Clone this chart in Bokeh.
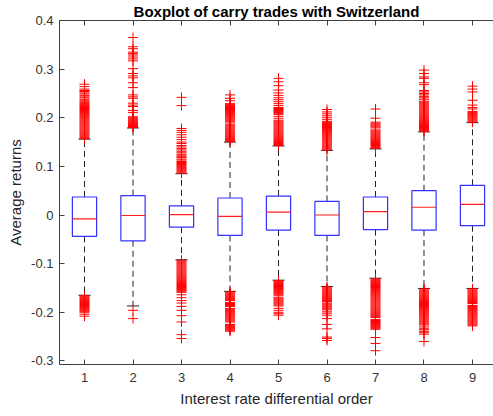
from bokeh.plotting import figure
from bokeh.models import Range1d, LinearAxis, FixedTicker, CustomJSTickFormatter
from bokeh.embed import file_html
from bokeh.resources import INLINE

# ---------------- data ----------------
positions = [1, 2, 3, 4, 5, 6, 7, 8, 9]
q1 = [-0.044, -0.053, -0.025, -0.042, -0.031, -0.042, -0.030, -0.031, -0.022]
med = [-0.008, -0.001, 0.001, -0.003, 0.006, 0.000, 0.007, 0.016, 0.022]
q3 = [0.037, 0.040, 0.019, 0.035, 0.039, 0.028, 0.037, 0.050, 0.061]
lower_whisker = [-0.165, -0.187, -0.092, -0.157, -0.134, -0.147, -0.130, -0.151, -0.151]
upper_whisker = [0.156, 0.179, 0.085, 0.150, 0.142, 0.133, 0.136, 0.171, 0.190]

out1 = [0.157, 0.159, 0.161, 0.163, 0.165, 0.167, 0.169, 0.171, 0.173, 0.175, 0.177, 0.179,
        0.181, 0.183, 0.185, 0.187, 0.189, 0.191, 0.193, 0.195, 0.197, 0.199, 0.201, 0.203,
        0.205, 0.207, 0.209, 0.211, 0.213, 0.215, 0.217, 0.219, 0.221, 0.223, 0.225, 0.227,
        0.229, 0.231, 0.233, 0.236, 0.238, 0.241, 0.243, 0.246, 0.249, 0.251, 0.254, 0.256,
        0.259, 0.264, 0.269,
        -0.166, -0.168, -0.170, -0.172, -0.174, -0.176, -0.178, -0.180, -0.182, -0.184,
        -0.186, -0.188, -0.190, -0.192, -0.194, -0.196, -0.198, -0.200, -0.204, -0.208]
out2 = [0.180, 0.182, 0.184, 0.186, 0.188, 0.190, 0.192, 0.194, 0.196, 0.198, 0.200, 0.202,
        0.211, 0.215, 0.223, 0.226, 0.230, 0.240, 0.243, 0.247, 0.262, 0.272, 0.282, 0.286,
        0.291, 0.301, 0.317, 0.321, 0.325, 0.329, 0.332, 0.335, 0.342, 0.346, 0.365,
        -0.196, -0.213]
out3 = [0.086, 0.088, 0.090, 0.092, 0.094, 0.096, 0.098, 0.100, 0.102, 0.104, 0.106, 0.108,
        0.110, 0.113, 0.115, 0.118, 0.120, 0.123, 0.125, 0.128, 0.131, 0.134, 0.137, 0.140,
        0.143, 0.147, 0.150, 0.155, 0.160, 0.165, 0.170, 0.174, 0.178, 0.225, 0.242,
        -0.093, -0.095, -0.097, -0.099, -0.101, -0.103, -0.105, -0.107, -0.109, -0.111,
        -0.113, -0.115, -0.117, -0.119, -0.121, -0.123, -0.125, -0.127, -0.129, -0.131,
        -0.133, -0.135, -0.137, -0.139, -0.141, -0.143, -0.145, -0.147, -0.149, -0.151,
        -0.153, -0.155, -0.157, -0.159, -0.164, -0.170, -0.176, -0.181, -0.188, -0.196,
        -0.207, -0.220, -0.246, -0.254]
out4 = [0.151, 0.153, 0.155, 0.157, 0.159, 0.161, 0.163, 0.165, 0.167, 0.169, 0.171, 0.173,
        0.175, 0.177, 0.179, 0.181, 0.183, 0.185, 0.187, 0.191, 0.193, 0.195, 0.197, 0.199,
        0.201, 0.203, 0.205, 0.207, 0.209, 0.211, 0.213, 0.215, 0.217, 0.219, 0.221, 0.223,
        0.225, 0.227, 0.229, 0.235, 0.240, 0.247,
        -0.158, -0.160, -0.162, -0.164, -0.166, -0.168, -0.170, -0.172, -0.174, -0.176,
        -0.180, -0.182, -0.184, -0.186, -0.188, -0.192, -0.194, -0.196, -0.198, -0.200,
        -0.202, -0.204, -0.206, -0.208, -0.210, -0.212, -0.214, -0.216, -0.218, -0.220,
        -0.225, -0.227, -0.229, -0.231, -0.233, -0.235, -0.237, -0.239]
out5 = [0.143, 0.145, 0.147, 0.149, 0.151, 0.153, 0.155, 0.157, 0.159, 0.161, 0.163, 0.165,
        0.167, 0.169, 0.171, 0.173, 0.175, 0.177, 0.179, 0.181, 0.183, 0.185, 0.187, 0.189,
        0.191, 0.193, 0.195, 0.199, 0.203, 0.207, 0.209, 0.211, 0.213, 0.215, 0.217, 0.219,
        0.221, 0.225, 0.229, 0.233, 0.237, 0.241, 0.246, 0.251, 0.257, 0.266, 0.274, 0.281,
        -0.135, -0.137, -0.139, -0.141, -0.143, -0.145, -0.147, -0.149, -0.151, -0.153,
        -0.155, -0.157, -0.159, -0.161, -0.163, -0.165, -0.169, -0.171, -0.173, -0.175,
        -0.177, -0.179, -0.181, -0.183, -0.185, -0.187, -0.192, -0.196, -0.200, -0.203, -0.206]
out6 = [0.134, 0.136, 0.138, 0.140, 0.142, 0.144, 0.146, 0.148, 0.150, 0.152, 0.154, 0.156,
        0.158, 0.160, 0.162, 0.164, 0.166, 0.168, 0.170, 0.172, 0.174, 0.176, 0.178, 0.180,
        0.182, 0.184, 0.186, 0.188, 0.190, 0.192, 0.196, 0.200, 0.204, 0.208, 0.212, 0.217,
        -0.148, -0.150, -0.152, -0.154, -0.156, -0.158, -0.160, -0.162, -0.164, -0.166,
        -0.168, -0.170, -0.172, -0.174, -0.176, -0.178, -0.181, -0.183, -0.185, -0.187,
        -0.189, -0.191, -0.193, -0.195, -0.199, -0.202, -0.206, -0.213, -0.225, -0.234,
        -0.251, -0.254, -0.258]
out7 = [0.137, 0.139, 0.141, 0.143, 0.145, 0.147, 0.149, 0.151, 0.153, 0.155, 0.157, 0.159,
        0.161, 0.163, 0.165, 0.167, 0.169, 0.171, 0.173, 0.175, 0.179, 0.181, 0.183, 0.185,
        0.187, 0.189, 0.191, 0.199, 0.218,
        -0.131, -0.133, -0.135, -0.137, -0.139, -0.141, -0.143, -0.145, -0.147, -0.149,
        -0.151, -0.153, -0.155, -0.157, -0.159, -0.161, -0.163, -0.165, -0.167, -0.169,
        -0.171, -0.173, -0.175, -0.177, -0.179, -0.181, -0.183, -0.185, -0.187, -0.189,
        -0.191, -0.193, -0.195, -0.197, -0.199, -0.201, -0.203, -0.205, -0.207, -0.209,
        -0.211, -0.215, -0.217, -0.219, -0.221, -0.223, -0.225, -0.227, -0.229, -0.231,
        -0.233, -0.235, -0.252, -0.264, -0.279]
out8 = [0.172, 0.174, 0.176, 0.178, 0.180, 0.182, 0.184, 0.186, 0.188, 0.190, 0.192, 0.194,
        0.196, 0.198, 0.200, 0.202, 0.204, 0.206, 0.208, 0.210, 0.212, 0.214, 0.216, 0.218,
        0.220, 0.222, 0.224, 0.226, 0.228, 0.230, 0.232, 0.234, 0.238, 0.241, 0.244, 0.247,
        0.250, 0.253, 0.256, 0.268, 0.272, 0.281, 0.284, 0.291, 0.298,
        -0.152, -0.154, -0.156, -0.158, -0.160, -0.162, -0.164, -0.166, -0.168, -0.170,
        -0.172, -0.174, -0.176, -0.178, -0.180, -0.182, -0.184, -0.186, -0.188, -0.190,
        -0.192, -0.194, -0.196, -0.198, -0.200, -0.202, -0.204, -0.206, -0.208, -0.210,
        -0.212, -0.214, -0.216, -0.218, -0.220, -0.222, -0.224, -0.226, -0.230, -0.233,
        -0.236, -0.239, -0.242, -0.245, -0.260]
out9 = [0.191, 0.193, 0.195, 0.197, 0.199, 0.201, 0.203, 0.205, 0.207, 0.209, 0.211, 0.213,
        0.218, 0.221, 0.226, 0.236, 0.253, 0.259, 0.265,
        -0.152, -0.154, -0.156, -0.158, -0.160, -0.162, -0.164, -0.166, -0.168, -0.170,
        -0.172, -0.174, -0.176, -0.178, -0.180, -0.182, -0.186, -0.188, -0.190, -0.192,
        -0.194, -0.196, -0.198, -0.200, -0.202, -0.204, -0.206, -0.208, -0.210, -0.212,
        -0.214, -0.216, -0.218, -0.220, -0.222, -0.224, -0.226, -0.228]

x_ticks = [1, 2, 3, 4, 5, 6, 7, 8, 9]
x_tick_labels = ["1", "2", "3", "4", "5", "6", "7", "8", "9"]
y_ticks = [-0.3, -0.2, -0.1, 0.0, 0.1, 0.2, 0.3, 0.4]
y_tick_labels = ["-0.3", "-0.2", "-0.1", "0", "0.1", "0.2", "0.3", "0.4"]

title_text = "Boxplot of carry trades with Switzerland"
x_label = "Interest rate differential order"
y_label = "Average returns"

# ---------------- figure ----------------
FONT = "Liberation Sans"
AX = "#404040"

p = figure(width=493, height=416,
           x_range=Range1d(0.4845, 9.433), y_range=Range1d(-0.3074, 0.4),
           output_backend="svg", toolbar_location=None,
           min_border_left=59, min_border_right=0, min_border_top=18, min_border_bottom=52)
p.outline_line_color = None
p.grid.visible = False
p.background_fill_color = "white"
p.border_fill_color = "white"

p.title.text = title_text
p.title.align = "center"
p.title.offset = 2
p.title.standoff = 1
p.title.text_font = FONT
p.title.text_font_size = "15px"
p.title.text_font_style = "bold"
p.title.text_color = "#000000"

def style_axis(ax):
    ax.axis_line_color = AX
    ax.axis_line_width = 1
    ax.major_tick_line_color = AX
    ax.major_tick_in = 5
    ax.major_tick_out = 0
    ax.minor_tick_line_color = None
    ax.major_label_text_font = FONT
    ax.major_label_text_font_size = "13px"
    ax.major_label_text_color = "#333333"
    ax.axis_label_text_font = FONT
    ax.axis_label_text_font_size = "15px"
    ax.axis_label_text_font_style = "normal"
    ax.axis_label_text_color = "#262626"

xa = p.xaxis[0]
style_axis(xa)
xa.ticker = FixedTicker(ticks=x_ticks)
xa.major_label_overrides = {t: l for t, l in zip(x_ticks, x_tick_labels)}
xa.major_label_standoff = 8
xa.axis_label = x_label
xa.axis_label_standoff = 5

ya = p.yaxis[0]
style_axis(ya)
ya.ticker = FixedTicker(ticks=y_ticks)
ya.major_label_overrides = {t: l for t, l in zip(y_ticks, y_tick_labels)}
ya.major_label_standoff = 6
ya.axis_label = y_label
ya.axis_label_standoff = 4

top = LinearAxis(ticker=FixedTicker(ticks=x_ticks),
                 formatter=CustomJSTickFormatter(code="return ''"))
style_axis(top)
top.major_label_standoff = 0
top.major_label_text_font_size = "0px"
p.add_layout(top, "above")

# whiskers (dashed)
half_box = 0.25
cap_half = 0.125
p.segment(x0=positions, y0=q3, x1=positions, y1=upper_whisker,
          line_color="#222222", line_width=1, line_dash="6 4")
p.segment(x0=positions, y0=q1, x1=positions, y1=lower_whisker,
          line_color="#222222", line_width=1, line_dash="6 4")
# caps
p.segment(x0=[x - cap_half for x in positions], y0=upper_whisker,
          x1=[x + cap_half for x in positions], y1=upper_whisker,
          line_color="#222222", line_width=1)
p.segment(x0=[x - cap_half for x in positions], y0=lower_whisker,
          x1=[x + cap_half for x in positions], y1=lower_whisker,
          line_color="#222222", line_width=1)
# boxes
p.quad(left=[x - half_box for x in positions], right=[x + half_box for x in positions],
       top=q3, bottom=q1, fill_color=None, line_color="#3333ff", line_width=1.2)
# medians
p.segment(x0=[x - half_box for x in positions], y0=med,
          x1=[x + half_box for x in positions], y1=med,
          line_color="#ff2020", line_width=1.2)
# outliers
outliers = [out1, out2, out3, out4, out5, out6, out7, out8, out9]
ox, oy = [], []
for pos, vals in zip(positions, outliers):
    ox.extend([pos] * len(vals))
    oy.extend(vals)
p.scatter(ox, oy, marker="cross", size=10, line_color="#ff0000", line_width=1)

open("out.html", "w").write(file_html(p, INLINE))
